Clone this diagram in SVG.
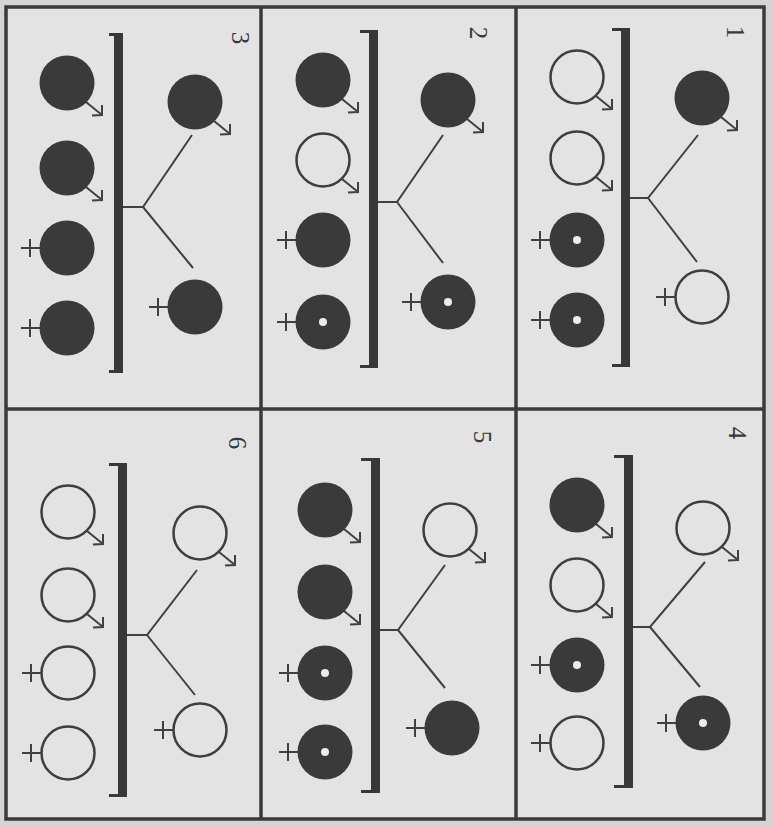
<svg xmlns="http://www.w3.org/2000/svg" xmlns:xlink="http://www.w3.org/1999/xlink" width="773" height="827" viewBox="0 0 773 827">
<style>
.ink{stroke:#383838;fill:none}
.frame{stroke:#3a3a3a;stroke-width:3.5;fill:none}
.fill{fill:#3a3a3a}
.open{fill:none;stroke:#3e3e3e;stroke-width:2.5}
.thin{stroke:#404040;stroke-width:2;fill:none}
.bar{fill:#383838}
.num{font-family:"Liberation Serif",serif;font-size:25px;fill:#383838}
</style>
<defs>
  <g id="m-arrow"><line x1="19" y1="19" x2="35" y2="32" class="thin"/><polyline points="35,22 35,32 25,32.5" class="thin"/></g>
  <g id="f-cross"><line x1="-27" y1="0" x2="-46" y2="0" class="thin"/><line x1="-37" y1="-9" x2="-37" y2="9" class="thin"/></g>
  <g id="male-filled"><circle r="27.5" class="fill"/><use xlink:href="#m-arrow"/></g>
  <g id="male-open"><circle r="26.5" class="open"/><use xlink:href="#m-arrow"/></g>
  <g id="female-filled"><circle r="27.5" class="fill"/><use xlink:href="#f-cross"/></g>
  <g id="female-open"><circle r="26.5" class="open"/><use xlink:href="#f-cross"/></g>
  <g id="female-dot"><circle r="27.5" class="fill"/><circle r="4" fill="#ececec"/><use xlink:href="#f-cross"/></g>
</defs>
<rect x="0" y="0" width="773" height="827" fill="#d4d4d4"/>
<rect x="6" y="7" width="758" height="812" fill="#e3e3e3"/>
<g id="frame">
  <rect x="6" y="7" width="758" height="812" class="frame"/>
  <line x1="261" y1="7" x2="261" y2="819" class="frame"/>
  <line x1="516" y1="7" x2="516" y2="819" class="frame"/>
  <line x1="6" y1="409" x2="764" y2="409" class="frame"/>
</g>

<g id="connectors">
  <polyline points="629,198 648,198 698,135" class="thin"/><line x1="648" y1="198" x2="697" y2="262" class="thin"/>
  <polyline points="377,202 397,202 443,135" class="thin"/><line x1="397" y1="202" x2="443" y2="263" class="thin"/>
  <polyline points="122,207 143,207 192,135" class="thin"/><line x1="143" y1="207" x2="193" y2="268" class="thin"/>
  <polyline points="632,627 650,627 705,562" class="thin"/><line x1="650" y1="627" x2="700" y2="687" class="thin"/>
  <polyline points="379,630 398,630 445,565" class="thin"/><line x1="398" y1="630" x2="445" y2="688" class="thin"/>
  <polyline points="126,635 147,635 197,570" class="thin"/><line x1="147" y1="635" x2="195" y2="695" class="thin"/>
</g>

<g id="panel1">
  <text class="num" text-anchor="middle" dominant-baseline="central" transform="translate(735,32) rotate(90)">1</text>
  <g id="bracket1"><rect x="621" y="28" width="9" height="339" class="bar"/><line x1="612" y1="29.5" x2="622" y2="29.5" class="ink" stroke-width="3"/><line x1="612" y1="365.5" x2="622" y2="365.5" class="ink" stroke-width="3"/></g>
  <use id="p1-father" xlink:href="#male-filled" x="702" y="98"/>
  <use id="p1-mother" xlink:href="#female-open" x="702" y="297"/>
  <use id="p1-c1" xlink:href="#male-open" x="577" y="77"/>
  <use id="p1-c2" xlink:href="#male-open" x="577" y="158"/>
  <use id="p1-c3" xlink:href="#female-dot" x="577" y="240"/>
  <use id="p1-c4" xlink:href="#female-dot" x="577" y="320"/>
</g>

<g id="panel2">
  <text class="num" text-anchor="middle" dominant-baseline="central" transform="translate(478,33) rotate(90)">2</text>
  <g id="bracket2"><rect x="369" y="30" width="9" height="338" class="bar"/><line x1="360" y1="31.5" x2="370" y2="31.5" class="ink" stroke-width="3"/><line x1="360" y1="366.5" x2="370" y2="366.5" class="ink" stroke-width="3"/></g>
  <use id="p2-father" xlink:href="#male-filled" x="448" y="100"/>
  <use id="p2-mother" xlink:href="#female-dot" x="448" y="302"/>
  <use id="p2-c1" xlink:href="#male-filled" x="323" y="80"/>
  <use id="p2-c2" xlink:href="#male-open" x="323" y="160"/>
  <use id="p2-c3" xlink:href="#female-filled" x="323" y="240"/>
  <use id="p2-c4" xlink:href="#female-dot" x="323" y="322"/>
</g>

<g id="panel3">
  <text class="num" text-anchor="middle" dominant-baseline="central" transform="translate(240,38) rotate(90)">3</text>
  <g id="bracket3"><rect x="114" y="33" width="9" height="340" class="bar"/><line x1="109" y1="34.5" x2="115" y2="34.5" class="ink" stroke-width="3"/><line x1="109" y1="371.5" x2="115" y2="371.5" class="ink" stroke-width="3"/></g>
  <use id="p3-father" xlink:href="#male-filled" x="195" y="102"/>
  <use id="p3-mother" xlink:href="#female-filled" x="195" y="307"/>
  <use id="p3-c1" xlink:href="#male-filled" x="67" y="83"/>
  <use id="p3-c2" xlink:href="#male-filled" x="67" y="168"/>
  <use id="p3-c3" xlink:href="#female-filled" x="67" y="248"/>
  <use id="p3-c4" xlink:href="#female-filled" x="67" y="328"/>
</g>

<g id="panel4">
  <text class="num" text-anchor="middle" dominant-baseline="central" transform="translate(737,433) rotate(90)">4</text>
  <g id="bracket4"><rect x="624" y="455" width="9" height="333" class="bar"/><line x1="614" y1="456.5" x2="625" y2="456.5" class="ink" stroke-width="3"/><line x1="614" y1="786.5" x2="625" y2="786.5" class="ink" stroke-width="3"/></g>
  <use id="p4-father" xlink:href="#male-open" x="703" y="528"/>
  <use id="p4-mother" xlink:href="#female-dot" x="703" y="723"/>
  <use id="p4-c1" xlink:href="#male-filled" x="577" y="505"/>
  <use id="p4-c2" xlink:href="#male-open" x="577" y="585"/>
  <use id="p4-c3" xlink:href="#female-dot" x="577" y="665"/>
  <use id="p4-c4" xlink:href="#female-open" x="577" y="743"/>
</g>

<g id="panel5">
  <text class="num" text-anchor="middle" dominant-baseline="central" transform="translate(482,437) rotate(90)">5</text>
  <g id="bracket5"><rect x="371" y="458" width="9" height="335" class="bar"/><line x1="361" y1="459.5" x2="372" y2="459.5" class="ink" stroke-width="3"/><line x1="361" y1="791.5" x2="372" y2="791.5" class="ink" stroke-width="3"/></g>
  <use id="p5-father" xlink:href="#male-open" x="450" y="530"/>
  <use id="p5-mother" xlink:href="#female-filled" x="452" y="728"/>
  <use id="p5-c1" xlink:href="#male-filled" x="325" y="510"/>
  <use id="p5-c2" xlink:href="#male-filled" x="325" y="592"/>
  <use id="p5-c3" xlink:href="#female-dot" x="325" y="673"/>
  <use id="p5-c4" xlink:href="#female-dot" x="325" y="752"/>
</g>

<g id="panel6">
  <text class="num" text-anchor="middle" dominant-baseline="central" transform="translate(237,443) rotate(90)">6</text>
  <g id="bracket6"><rect x="118" y="463" width="9" height="334" class="bar"/><line x1="109" y1="464.5" x2="119" y2="464.5" class="ink" stroke-width="3"/><line x1="109" y1="795.5" x2="119" y2="795.5" class="ink" stroke-width="3"/></g>
  <use id="p6-father" xlink:href="#male-open" x="200" y="533"/>
  <use id="p6-mother" xlink:href="#female-open" x="200" y="730"/>
  <use id="p6-c1" xlink:href="#male-open" x="68" y="512"/>
  <use id="p6-c2" xlink:href="#male-open" x="68" y="595"/>
  <use id="p6-c3" xlink:href="#female-open" x="68" y="673"/>
  <use id="p6-c4" xlink:href="#female-open" x="68" y="753"/>
</g>
</svg>
